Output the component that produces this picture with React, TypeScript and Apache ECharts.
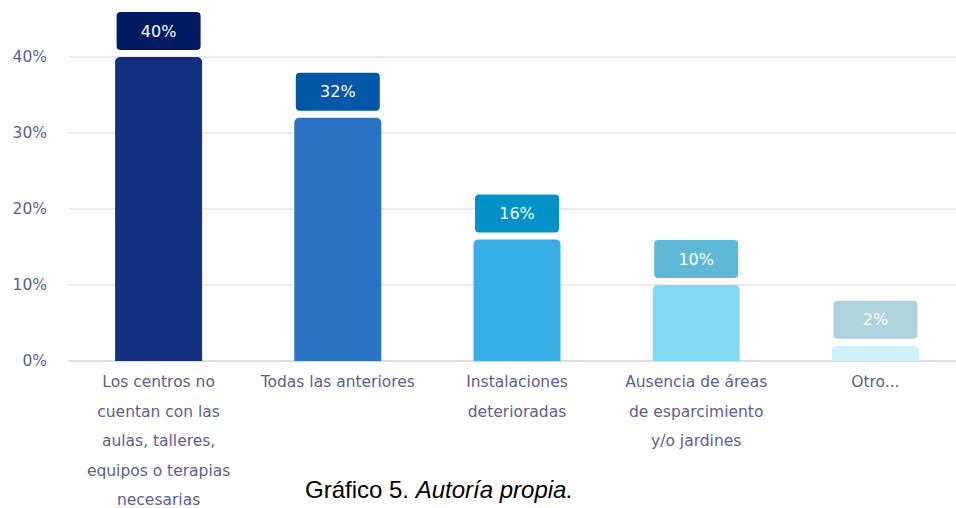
import React, { useEffect, useRef } from "react";
import * as echarts from "echarts";

const categories = [
  "Los centros no\ncuentan con las\naulas, talleres,\nequipos o terapias\nnecesarias",
  "Todas las anteriores",
  "Instalaciones\ndeterioradas",
  "Ausencia de áreas\nde esparcimiento\ny/o jardines",
  "Otro...",
];
const values = [40, 32, 16, 10, 2];
const barColors = ["#132f80", "#2c73c3", "#3aaee6", "#84d9f2", "#cff1f9"];
const labelColors = ["#011b62", "#0258a6", "#0291c8", "#5fb9d6", "#aed3dd"];
const yTicks = [0, 10, 20, 30, 40];

export default function App() {
  const ref = useRef<HTMLDivElement>(null);
  useEffect(() => {
    const chart = echarts.init(ref.current!, null, { renderer: "svg" });
    chart.setOption({
      animation: false,
      backgroundColor: "#ffffff",
      grid: { left: 69, top: 57, width: 896, height: 304, outerBoundsMode: "none", containLabel: false },
      xAxis: {
        type: "category",
        data: categories,
        axisLine: { lineStyle: { color: "#dcdcf0", width: 2 } },
        axisTick: { show: false },
        axisLabel: {
          color: "#5d5d90",
          fontFamily: "DejaVu Sans",
          fontSize: 15.5,
          lineHeight: 29.5,
          margin: 6.5,
          interval: 0,
        },
      },
      yAxis: {
        type: "value",
        min: yTicks[0],
        max: yTicks[yTicks.length - 1],
        interval: 10,
        axisLine: { show: false },
        axisTick: { show: false },
        splitLine: { lineStyle: { color: "#ebebeb", width: 2 } },
        axisLabel: {
          color: "#5d5d90",
          fontFamily: "DejaVu Sans",
          fontSize: 15.5,
          margin: 22,
          formatter: (v: number) => v + "%",
        },
      },
      series: [
        {
          type: "bar",
          barWidth: 87,
          data: values.map((v, i) => ({
            value: v,
            itemStyle: { color: barColors[i], borderRadius: [5, 5, 0, 0] },
            label: {
              show: true,
              position: "top",
              distance: 7,
              formatter: (p: any) => p.value + "%",
              backgroundColor: labelColors[i],
              color: "#ffffff",
              fontFamily: "DejaVu Sans",
              fontSize: 16,
              lineHeight: 18,
              width: 84,
              align: "center",
              padding: [10, 0, 10, 0],
              borderRadius: 4,
            },
          })),
        },
      ],
      graphic: [
        {
          type: "text",
          left: 305,
          top: 477,
          style: {
            text: "Gráfico 5. {i|Autoría propia.}",
            fontFamily: "Liberation Sans",
            fontSize: 24,
            fill: "#000000",
            rich: {
              i: {
                fontFamily: "Liberation Sans",
                fontSize: 24,
                fontStyle: "italic",
                fill: "#000000",
              },
            },
          },
        },
      ],
    });
    return () => chart.dispose();
  }, []);
  return (
    <div style={{ position: "absolute", left: 0, top: 0, width: 956, height: 508, overflow: "hidden" }}>
      <div ref={ref} style={{ width: 965, height: 508 }} />
    </div>
  );
}
